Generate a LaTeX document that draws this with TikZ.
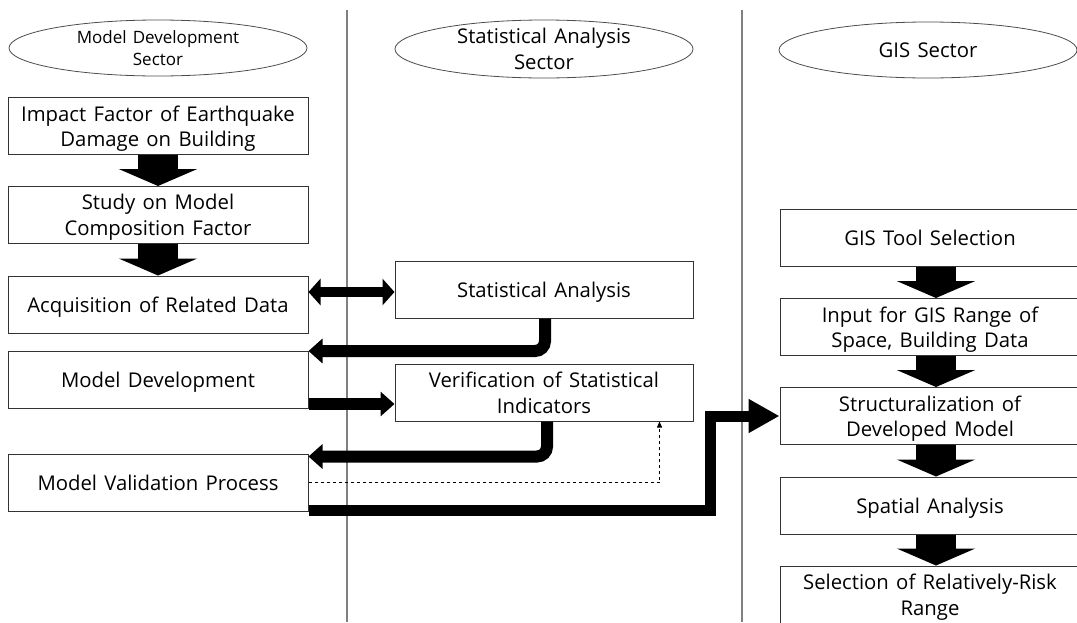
\documentclass[tikz,border=0pt]{standalone}
\usepackage{fontspec}
\setmainfont{Open Sans}
\usetikzlibrary{arrows.meta,shapes.geometric,calc}

\newcommand\flowfont{\fontsize{20.3}{25.5}\selectfont\spaceskip=0.36em\relax}
\newcommand\smallsecfont{\fontsize{17}{22}\selectfont\spaceskip=0.36em\relax}

\tikzset{
  stepbox/.style={draw=black!80, line width=1pt, fill=white, minimum width=300, minimum height=57,
    inner sep=0pt, align=center, text depth=0pt, font=\flowfont},
  sector/.style={draw=black!70, ellipse, line width=0.8pt, minimum width=298, minimum height=56,
    inner sep=0pt, align=center, text depth=0pt, font=\flowfont},
  sepline/.style={draw=black!50, line width=1.2pt},
  downflow/.style={line width=40pt, -{Triangle[length=17pt,width=78pt]}},
  sideflow/.style={line width=12pt, rounded corners=10pt, -{Triangle[length=14pt,width=24pt]}},
  twoway/.style={line width=10pt, {Triangle[length=12pt,width=26pt]}-{Triangle[length=12pt,width=26pt]}},
  gisflow/.style={line width=11pt, line join=miter, -{Triangle[length=31pt,width=32pt]}},
  checkflow/.style={line width=0.6pt, dashed, -{Triangle[length=6pt,width=5pt]}}
}

\begin{document}
\begin{tikzpicture}[x=1pt,y=-1pt]
    \useasboundingbox (0,0) rectangle (1077,622);

    % sector separators
    \draw[sepline] (347,10) -- (347,622);
    \draw[sepline] (742,10) -- (742,622);

    % sector titles
    \node[sector, font=\smallsecfont] (secmodel) at (158,48) {Model Development\\Sector};
    \node[sector, minimum height=58] (secstat) at (544,49) {Statistical Analysis\\Sector};
    \node[sector] (secgis) at (928,50) {GIS Sector};

    % model development sector
    \node[stepbox] (impact) at (158,126) {Impact Factor of Earthquake\\Damage on Building};
    \node[stepbox] (study) at (158,215) {Study on Model\\Composition Factor};
    \node[stepbox] (acq) at (158,304.5) {Acquisition of Related Data};
    \node[stepbox] (mdev) at (158,380) {Model Development};
    \node[stepbox] (mval) at (158,482.5) {Model Validation Process};

    % statistical analysis sector
    \node[stepbox, minimum width=298] (stat) at (544,289.5) {Statistical Analysis};
    \node[stepbox, minimum width=298] (verif) at (544,392.5) {Verification of Statistical\\Indicators};

    % GIS sector
    \node[stepbox] (tool) at (930,238) {GIS Tool Selection};
    \node[stepbox] (input) at (930,327) {Input for GIS Range of\\Space, Building Data};
    \node[stepbox] (struct) at (930,416) {Structuralization of\\Developed Model};
    \node[stepbox] (spatial) at (930,505.5) {Spatial Analysis};
    \node[stepbox] (select) at (930,594.5) {Selection of Relatively-Risk\\Range};

    % flow inside sectors
    \draw[downflow] (impact.south) -- (study.north);
    \draw[downflow] (study.south) -- (acq.north);
    \draw[downflow] ([xshift=6pt]tool.south) -- ([xshift=6pt]input.north);
    \draw[downflow] ([xshift=6pt]input.south) -- ([xshift=6pt]struct.north);
    \draw[downflow] ([xshift=6pt]struct.south) -- ([xshift=6pt]spatial.north);
    \draw[downflow] ([xshift=6pt]spatial.south) -- ([xshift=6pt]select.north);

    % flow between sectors
    \draw[twoway] (acq.east |- stat.west) ++(0,2.5) -- ($(stat.west)+(0,2.5)$);
    \draw[sideflow] ([xshift=1pt]stat.south) |- (mdev.north east);
    \draw[sideflow, rounded corners=0pt] ([yshift=5pt]mdev.south east) -- ([yshift=5pt]verif.west |- mdev.south east);
    \draw[sideflow] ([xshift=3pt]verif.south) |- ([yshift=-3pt]mval.north east);
    \draw[checkflow] (mval.east) -| ([xshift=-34pt]verif.south east);
    \draw[gisflow] ([yshift=1pt]mval.south east) -- ++(402,0) |- (struct.west);
\end{tikzpicture}
\end{document}
